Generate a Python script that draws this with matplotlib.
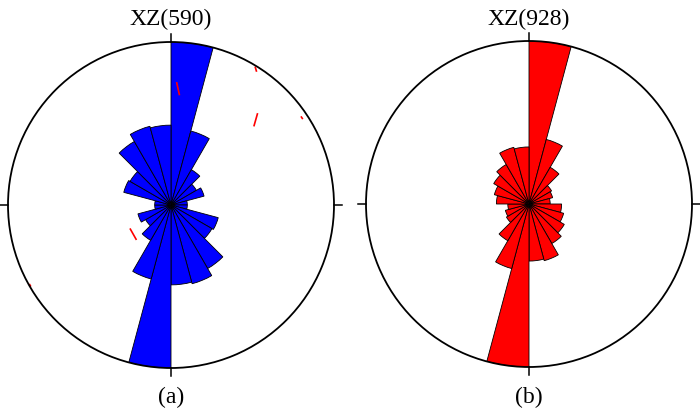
import numpy as np
import matplotlib.pyplot as plt

plt.rcParams['font.family'] = ['Liberation Serif', 'DejaVu Serif']

# 15-degree bins from 0 to 180 (clockwise from north), mirrored to 180-360
bin_start = np.arange(0, 180, 15)

# bar lengths relative to the outer circle (max = 1)
len_590 = [1.00, 0.47, 0.25, 0.18, 0.21, 0.10, 0.10, 0.30, 0.29, 0.45, 0.50, 0.49]
len_928 = [1.00, 0.41, 0.26, 0.16, 0.15, 0.13, 0.20, 0.22, 0.25, 0.28, 0.36, 0.35]

titles = ['XZ(590)', 'XZ(928)']
labels = ['(a)', '(b)']
colors = ['#0000ff', '#ff0000']

# stray red strokes in panel (a): (theta1, r1, theta2, r2), degrees / relative radius
stray_a = [(2.7, 0.75, 4.3, 0.68),
           (31.5, 0.99, 32.5, 0.975),
           (43.5, 0.77, 46.3, 0.705),
           (56.0, 0.965, 56.6, 0.965),
           (240.1, 0.995, 240.6, 0.995),
           (239.3, 0.29, 225.6, 0.30)]

fig = plt.figure(figsize=(7, 4.11), dpi=100)

boxes = [[8 / 700, 43 / 411, 326 / 700, 326 / 411],
         [366 / 700, 44 / 411, 326 / 700, 326 / 411]]
centers = [171, 529]

for k, lens in enumerate([len_590, len_928]):
    ax = fig.add_axes(boxes[k], projection='polar')
    ax.set_theta_zero_location('N')
    ax.set_theta_direction(-1)
    theta = np.deg2rad(np.concatenate([bin_start, bin_start + 180]))
    r = np.concatenate([lens, lens])
    ax.bar(theta, r, width=np.deg2rad(15), align='edge', color=colors[k],
           edgecolor='black', linewidth=0.6)
    if k == 0:
        for t1, r1, t2, r2 in stray_a:
            ax.plot(np.deg2rad([t1, t2]), [r1, r2], color='red', linewidth=1.2)
    # outward tick marks at N, E, S, W
    for t in [0, 90, 180, 270]:
        ax.plot([np.deg2rad(t)] * 2, [1.0, 1.05], color='black', linewidth=1.1,
                clip_on=False)
    ax.set_ylim(0, 1)
    ax.set_yticks([])
    ax.set_xticks([])
    ax.grid(False)
    ax.spines['polar'].set_linewidth(1.3)
    fig.text(centers[k] / 700, 1 - 25 / 411, titles[k], ha='center',
             va='baseline', fontsize=17)
    fig.text(centers[k] / 700, 1 - 403 / 411, labels[k], ha='center',
             va='baseline', fontsize=17)

fig.savefig('out.png', dpi=100)
